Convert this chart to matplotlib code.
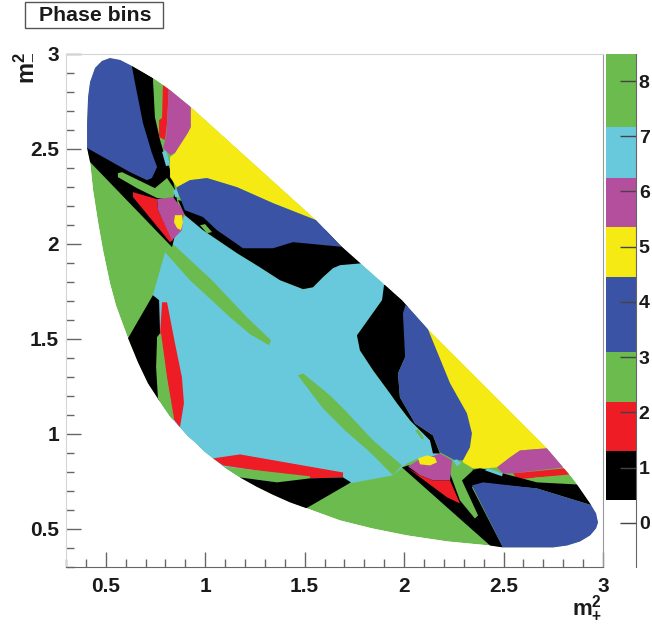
import numpy as np
import matplotlib
matplotlib.use("Agg")
import matplotlib.pyplot as plt
from matplotlib.colors import ListedColormap
from matplotlib.patches import Polygon, Rectangle
from matplotlib.ticker import MultipleLocator

plt.rcParams['font.family'] = ['Liberation Sans', 'DejaVu Sans']
plt.rcParams['font.weight'] = 'bold'
plt.rcParams['mathtext.fontset'] = 'custom'
plt.rcParams['mathtext.rm'] = 'Liberation Sans:bold'
plt.rcParams['mathtext.default'] = 'rm'

# bin number -> colour, bin 0 is outside the phase space
BIN_COLORS = ['#ffffff', '#000000', '#ee1c25', '#6cbb4f', '#3b53a4',
              '#f5ea14', '#b44f9e', '#69c9dc', '#6cbb4f']
# where the colour bands of the palette change
BAND_EDGES = [-0.8, 0.42, 1.30, 2.19, 3.09, 4.45, 5.36, 6.24, 7.17, 8.49]
BAND_BINS = [0, 1, 2, 3, 4, 5, 6, 7, 8]
PALETTE_TICKS = [0, 1, 2, 3, 4, 5, 6, 7, 8]
AXIS_TICKS = [0.5, 1, 1.5, 2, 2.5, 3]
AXIS_LABELS = ['0.5', '1', '1.5', '2', '2.5', '3']

# edge of the allowed region, (m2+, m2-)
OUTLINE = [(.406, 2.503), (.406, 2.634), (.411, 2.771), (.421, 2.850), (.446, 2.924),
           (.481, 2.961), (.521, 2.976), (.572, 2.966), (.632, 2.934), (.737, 2.871),
           (.823, 2.808), (.928, 2.718), (1.557, 2.124), (1.678, 1.992), (1.989, 1.703),
           (2.120, 1.550), (2.718, .924), (2.834, .782), (2.869, .734), (2.935, .634),
           (2.965, .582), (2.975, .534), (2.965, .503), (2.935, .466), (2.884, .434),
           (2.819, .413), (2.749, .403), (2.497, .403), (2.432, .413), (2.221, .434),
           (2.015, .466), (1.839, .503), (1.678, .545), (1.512, .608), (1.426, .640),
           (1.336, .682), (1.255, .724), (1.175, .771), (1.104, .819), (1.039, .871),
           (.994, .908), (.954, .950), (.913, .987), (.873, 1.034), (.823, 1.092),
           (.768, 1.176), (.712, 1.266), (.662, 1.376), (.612, 1.503), (.582, 1.587),
           (.551, 1.676), (.521, 1.792), (.486, 1.966), (.461, 2.113), (.436, 2.282),
           (.421, 2.429)]

CYAN_MAIN = [(.798, 1.955), (.833, 2.003), (.898, 2.150), (.989, 2.071), (1.160, 1.950),
             (1.275, 1.876), (1.376, 1.808), (1.492, 1.761), (1.542, 1.771), (1.592, 1.824),
             (1.642, 1.871), (1.678, 1.903), (1.788, 1.897), (1.95, 1.76), (1.889, 1.703),
             (1.763, 1.518), (1.778, 1.439), (1.844, 1.334), (1.929, 1.213), (1.964, 1.161),
             (2.030, 1.071), (2.130, .966), (2.180, .887), (2.070, .871), (2.015, .845),
             (1.944, .782), (1.728, .740), (1.175, .740), (.78, 1.10), (.773, 1.492),
             (.737, 1.729)]
GREEN_STRIPE1 = [(.833, 2.003), (1.034, 1.808), (1.210, 1.613), (1.331, 1.492), (1.321, 1.466),
                 (1.225, 1.524), (1.125, 1.613), (.923, 1.808), (.798, 1.955)]
GREEN_STRIPE2 = [(1.466, 1.308), (1.492, 1.318), (1.627, 1.203), (1.703, 1.124), (1.844, .966),
                 (1.989, .834), (1.944, .782), (1.829, .903), (1.703, 1.018), (1.592, 1.134),
                 (1.477, 1.292)]

# upper left corner
BLACK_WEDGE = [(.632, 2.939), (.737, 2.871), (.747, 2.666), (.773, 2.545), (.788, 2.492),
               (.833, 2.361), (.848, 2.282), (.873, 2.150), (.833, 1.982), (.421, 2.429),
               (.38, 2.46), (.38, 2.52), (.406, 2.503)]
BLUE_TOPLEFT = [(.632, 2.929), (.647, 2.845), (.687, 2.634), (.732, 2.476), (.758, 2.403),
                (.732, 2.345), (.707, 2.334), (.622, 2.376), (.406, 2.503), (.35, 2.53),
                (.35, 3.05), (.62, 3.05)]
GREEN_V = [(.561, 2.371), (.582, 2.376), (.747, 2.292), (.808, 2.345), (.848, 2.282),
           (.838, 2.229), (.758, 2.240), (.657, 2.292), (.561, 2.350)]
RED_MID = [(.637, 2.271), (.758, 2.234), (.763, 2.176), (.838, 2.018), (.823, 2.008), (.637, 2.245)]
PURPLE_MID = [(.758, 2.234), (.838, 2.245), (.898, 2.166), (.888, 2.140), (.883, 2.071),
              (.833, 2.018), (.763, 2.176)]
YELLOW_MID = [(.848, 2.150), (.883, 2.150), (.888, 2.113), (.878, 2.071), (.858, 2.082), (.843, 2.113)]
CYAN_DOT1 = [(.838, 2.282), (.863, 2.282), (.868, 2.245), (.848, 2.245)]
CYAN_DOT2 = [(.783, 2.482), (.803, 2.492), (.823, 2.413), (.803, 2.408)]
GREEN_TOP = [(.737, 2.90), (.79, 2.87), (.783, 2.661), (.753, 2.666)]
RED_TOP = [(.788, 2.86), (.818, 2.84), (.808, 2.634), (.798, 2.545), (.768, 2.561),
           (.768, 2.650), (.783, 2.661)]
PURPLE_TOP = [(.818, 2.84), (.928, 2.75), (.928, 2.613), (.913, 2.582), (.848, 2.476),
              (.823, 2.466), (.788, 2.503), (.803, 2.561), (.808, 2.634)]
YELLOW_TOP = [(.928, 2.75), (1.60, 2.16), (1.557, 2.124), (1.341, 2.213), (1.160, 2.297),
              (1.009, 2.345), (.923, 2.334), (.858, 2.297), (.823, 2.350), (.823, 2.455),
              (.848, 2.476), (.913, 2.582), (.928, 2.613)]
BLACK_RIDGE = [(.863, 2.229), (1.72, 2.05), (1.80, 1.93), (1.788, 1.897), (1.678, 1.887),
               (1.642, 1.871), (1.592, 1.824), (1.542, 1.771), (1.492, 1.761), (1.376, 1.808),
               (1.275, 1.876), (1.160, 1.950), (.989, 2.071), (.898, 2.150)]
BLUE_MID = [(.858, 2.282), (.898, 2.176), (.989, 2.140), (1.059, 2.071), (1.190, 1.976),
            (1.341, 1.976), (1.441, 2.008), (1.703, 1.982), (1.72, 2.05), (1.60, 2.16),
            (1.557, 2.124), (1.341, 2.213), (1.160, 2.297), (1.009, 2.345), (.923, 2.334),
            (.858, 2.297)]
GREEN_SPOT2 = [(.974, 2.097), (.999, 2.103), (1.034, 2.061), (1.009, 2.055)]

# right hand side
BLACK_RIGHT = [(1.899, 1.782), (1.95, 1.80), (2.02, 1.72), (2.005, 1.403), (1.969, 1.318),
               (1.979, 1.192), (2.055, 1.055), (2.145, .992), (2.180, .897), (2.145, .897),
               (2.130, .966), (2.030, 1.071), (1.964, 1.161), (1.929, 1.213), (1.844, 1.334),
               (1.778, 1.439), (1.763, 1.518), (1.889, 1.703)]
BLUE_RIGHT = [(2.02, 1.72), (2.14, 1.57), (2.120, 1.550), (2.231, 1.266), (2.316, 1.108),
              (2.341, 1.003), (2.331, .929), (2.296, .861), (2.256, .861), (2.180, .903),
              (2.145, .992), (2.055, 1.055), (1.979, 1.192), (1.969, 1.318), (2.005, 1.403),
              (1.994, 1.634)]
YELLOW_RIGHT = [(2.14, 1.57), (2.75, .95), (2.718, .924), (2.583, .913), (2.532, .876),
                (2.467, .824), (2.417, .819), (2.346, .819), (2.296, .850), (2.28, .95),
                (2.18, 1.30), (2.120, 1.550)]
PURPLE_RIGHT = [(2.75, .95), (2.83, .85), (2.799, .824), (2.548, .792), (2.497, .792),
                (2.467, .824), (2.532, .876), (2.583, .913), (2.718, .924)]
RED_RIGHT = [(2.548, .792), (2.809, .819), (2.86, .79), (2.834, .787), (2.568, .761)]
GREEN_RIGHT = [(2.658, .771), (2.844, .782), (2.89, .75), (2.869, .734), (2.668, .745)]
BLACK_LOWER = [(1.989, .824), (2.020, .834), (2.291, .80), (2.382, .819), (2.497, .792),
               (2.668, .745), (2.869, .734), (2.97, .66), (2.945, .624), (2.668, .713),
               (2.397, .740), (2.341, .719), (2.497, .403), (2.497, .38), (2.42, .38),
               (2.432, .413)]
BLUE_LOWER = [(2.341, .729), (2.397, .745), (2.668, .713), (2.945, .624), (3.05, .6),
              (3.05, .35), (2.52, .35), (2.497, .403)]
GREEN_LEG = [(2.231, .824), (2.256, .845), (2.291, .845), (2.346, .808), (2.291, .755),
             (2.372, .571), (2.356, .555), (2.281, .650), (2.231, .792)]
PURPLE_LOW = [(2.020, .829), (2.070, .861), (2.155, .887), (2.180, .897), (2.241, .861),
              (2.231, .755), (2.145, .755), (2.080, .782)]
RED_LOW = [(2.020, .819), (2.080, .782), (2.145, .755), (2.231, .755), (2.281, .634), (2.216, .666)]
YELLOW_LOW = [(2.070, .871), (2.115, .887), (2.155, .876), (2.165, .850), (2.130, .834), (2.080, .840)]
CYAN_DOT3 = [(2.246, .861), (2.266, .866), (2.286, .845), (2.266, .829)]
CYAN_DOT4 = [(2.407, .808), (2.422, .819), (2.497, .792), (2.492, .777)]
GREEN_SPOT1 = [(2.055, 1.018), (2.070, 1.024), (2.100, .976), (2.090, .971)]

# lower left
BLACK_LEFT = [(.737, 1.729), (.768, 1.703), (.773, 1.529), (.758, 1.508), (.758, 1.350),
              (.773, 1.176), (.75, 1.15), (.57, 1.47), (.612, 1.503)]
RED_LEFT = [(.783, 1.692), (.808, 1.692), (.848, 1.476), (.883, 1.297), (.893, 1.161),
            (.873, 1.034), (.838, 1.082), (.808, 1.282), (.773, 1.529)]
GREEN_LEFT = [(.758, 1.508), (.778, 1.529), (.808, 1.297), (.843, 1.082), (.83, 1.06),
              (.763, 1.176), (.753, 1.350)]
RED_BOTTOM = [(1.039, .871), (1.175, .892), (1.693, .797), (1.693, .771), (1.527, .766), (1.089, .834)]
GREEN_BOTTOM = [(1.084, .829), (1.527, .777), (1.527, .761), (1.361, .745), (1.175, .771)]
BLACK_BOTTOM = [(1.175, .771), (1.361, .745), (1.527, .766), (1.693, .771), (1.733, .745),
                (1.507, .608), (1.5, .58), (1.15, .74)]

# painted in this order, later ones sit on top
REGIONS = [(3, OUTLINE), (7, CYAN_MAIN), (3, GREEN_STRIPE1), (3, GREEN_STRIPE2),
           (1, BLACK_WEDGE), (4, BLUE_TOPLEFT), (3, GREEN_V), (2, RED_MID), (6, PURPLE_MID),
           (5, YELLOW_MID), (7, CYAN_DOT1), (7, CYAN_DOT2), (3, GREEN_TOP), (2, RED_TOP),
           (6, PURPLE_TOP), (5, YELLOW_TOP), (1, BLACK_RIDGE), (4, BLUE_MID), (3, GREEN_SPOT2),
           (1, BLACK_RIGHT), (5, YELLOW_RIGHT), (4, BLUE_RIGHT), (6, PURPLE_RIGHT),
           (2, RED_RIGHT), (3, GREEN_RIGHT), (1, BLACK_LOWER), (4, BLUE_LOWER), (3, GREEN_LEG),
           (6, PURPLE_LOW), (2, RED_LOW), (5, YELLOW_LOW), (7, CYAN_DOT3), (7, CYAN_DOT4),
           (3, GREEN_SPOT1), (1, BLACK_LEFT), (2, RED_LEFT), (3, GREEN_LEFT),
           (2, RED_BOTTOM), (3, GREEN_BOTTOM), (1, BLACK_BOTTOM)]

W, H = 652, 626
fig = plt.figure(figsize=(W / 100, H / 100), dpi=100)

# main plot
ax = fig.add_axes([66 / W, 1 - 567 / H, 537 / W, 513.5 / H])
ax.set_xlim(0.3, 3)
ax.set_ylim(0.3, 3)
clip = Polygon(OUTLINE, closed=True, facecolor='none', edgecolor='none')
ax.add_patch(clip)
for bin_no, pts in REGIONS:
    p = Polygon(pts, closed=True, facecolor=BIN_COLORS[bin_no], edgecolor='none')
    ax.add_patch(p)
    p.set_clip_path(clip)

ax.set_xticks(AXIS_TICKS)
ax.set_xticklabels(AXIS_LABELS)
ax.set_yticks(AXIS_TICKS)
ax.set_yticklabels(AXIS_LABELS)
ax.xaxis.set_minor_locator(MultipleLocator(0.1))
ax.yaxis.set_minor_locator(MultipleLocator(0.1))
ax.tick_params(which='major', direction='in', length=11, width=1, color='#666666',
               labelsize=15, labelcolor='#1a1a1a')
ax.tick_params(which='minor', direction='in', length=5.5, width=1, color='#666666')
ax.tick_params(axis='x', which='major', pad=7)
ax.tick_params(axis='y', which='major', pad=5)
ax.spines['top'].set_color('#d5d5d5')
ax.spines['left'].set_color('#d5d5d5')
ax.spines['right'].set_color('#999999')
ax.spines['bottom'].set_color('#666666')

# palette on the right
cax = fig.add_axes([606 / W, 1 - 567 / H, 30 / W, 513 / H])
cax.pcolormesh([0, 1], BAND_EDGES, np.array(BAND_BINS)[:, None],
               cmap=ListedColormap(BIN_COLORS), vmin=-0.5, vmax=8.5)
cax.set_xticks([])
cax.set_ylim(BAND_EDGES[0], BAND_EDGES[-1])
cax.yaxis.tick_right()
cax.set_yticks(PALETTE_TICKS)
cax.tick_params(axis='y', direction='in', length=11.5, width=1, color='#444444',
                labelsize=14, labelcolor='#1a1a1a', pad=2)
for side in ['top', 'left', 'bottom']:
    cax.spines[side].set_visible(False)
cax.spines['right'].set_color('#666666')

# title box and axis labels
fig.add_artist(Rectangle((25 / W, 1 - 28 / H), 138 / W, 26 / H, transform=fig.transFigure,
                         facecolor='white', edgecolor='#555555', linewidth=1))
fig.text(95 / W, 1 - 15.5 / H, 'Phase bins', ha='center', va='center', fontsize=15.3,
         fontweight='bold', color='#1a1a1a')
fig.text(23 / W, 1 - 68 / H, r'$\mathrm{m}_{-}^{2}$', rotation=90, ha='center', va='center',
         fontsize=17, color='#1a1a1a')
fig.text(587 / W, 1 - 608 / H, r'$\mathrm{m}_{+}^{2}$', ha='center', va='center',
         fontsize=16, color='#1a1a1a')

fig.savefig('out.png', dpi=100)
